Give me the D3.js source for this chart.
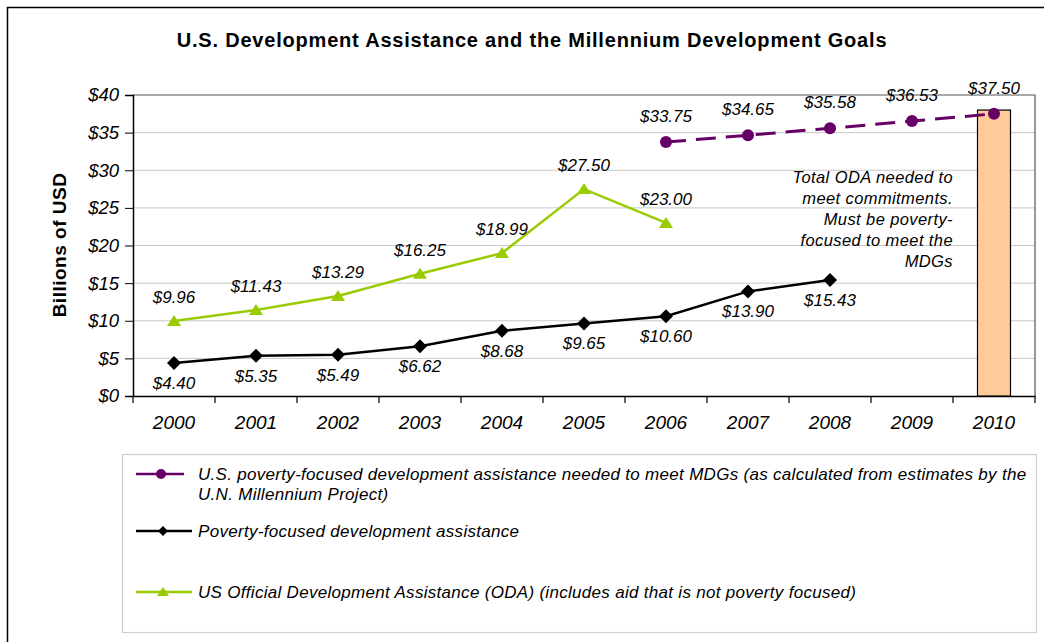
<!DOCTYPE html>
<html>
<head>
<meta charset="utf-8">
<script src="https://cdn.jsdelivr.net/npm/d3@7"></script>
<style>
  body { margin: 0; background: #fff; }
  text { font-family: "Liberation Sans", Arial, sans-serif; }
</style>
</head>
<body>
<svg id="chart" width="1044" height="642"></svg>
<script>
// data
const years = ["2000","2001","2002","2003","2004","2005","2006","2007","2008","2009","2010"];
const yTicks = [0, 5, 10, 15, 20, 25, 30, 35, 40];

const neededYears = ["2006","2007","2008","2009","2010"];
const neededValues = [33.75, 34.65, 35.58, 36.53, 37.50];

const povertyYears = ["2000","2001","2002","2003","2004","2005","2006","2007","2008"];
const povertyValues = [4.40, 5.35, 5.49, 6.62, 8.68, 9.65, 10.60, 13.90, 15.43];

const odaYears = ["2000","2001","2002","2003","2004","2005","2006"];
const odaValues = [9.96, 11.43, 13.29, 16.25, 18.99, 27.50, 23.00];

const barYears = ["2010"];
const barValues = [38];

const noteLines = ["Total ODA needed to", "meet commitments.", "Must be poverty-", "focused to meet the", "MDGs"];

const legendItems = [
  { lines: ["U.S. poverty-focused development assistance needed to meet MDGs (as calculated from estimates by the", "U.N. Millennium Project)"], color: "#660066", marker: "circle", y: 474 },
  { lines: ["Poverty-focused development assistance"], color: "#000000", marker: "diamond", y: 531 },
  { lines: ["US Official Development Assistance (ODA) (includes aid that is not poverty focused)"], color: "#99CC00", marker: "triangle", y: 592 }
];

const svg = d3.select("#chart");

// outer frame
svg.append("rect")
  .attr("x", 7.5).attr("y", 7.5)
  .attr("width", 1100).attr("height", 700)
  .attr("fill", "none").attr("stroke", "#000").attr("stroke-width", 1.5);

svg.append("text")
  .attr("x", 532).attr("y", 47)
  .attr("text-anchor", "middle")
  .style("font-size", "20px").style("font-weight", "bold")
  .style("letter-spacing", "0.8px")
  .text("U.S. Development Assistance and the Millennium Development Goals");

const plotLeft = 133, plotRight = 1035, plotTop = 95, plotBottom = 396;

const x = d3.scaleBand().domain(years).range([plotLeft, plotRight]);
const y = d3.scaleLinear().domain([0, 40]).range([plotBottom, plotTop]);
const cx = d => x(d) + x.bandwidth() / 2;

// gridlines
svg.append("g").selectAll("line")
  .data(yTicks.filter(t => t > 0 && t < 40))
  .enter().append("line")
  .attr("x1", plotLeft).attr("x2", plotRight)
  .attr("y1", d => y(d)).attr("y2", d => y(d))
  .attr("stroke", "#c8c8c8").attr("stroke-width", 1);

// plot frame top + right
svg.append("path")
  .attr("d", `M${plotLeft},${plotTop}H${plotRight}V${plotBottom}`)
  .attr("fill", "none").attr("stroke", "#555").attr("stroke-width", 1.2);

// y axis
const yAxis = svg.append("g")
  .attr("transform", `translate(${plotLeft},0)`)
  .call(d3.axisLeft(y).tickValues(yTicks).tickSize(8).tickPadding(6).tickFormat(d => "$" + d));
yAxis.select(".domain").attr("stroke", "#000").attr("stroke-width", 1.5);
yAxis.selectAll(".tick line").attr("stroke", "#000");
yAxis.selectAll(".tick text")
  .style("font-size", "18.5px").style("font-style", "italic")
  .style("font-family", "Liberation Sans, Arial, sans-serif").attr("fill", "#000");

// x axis
const xAxis = svg.append("g")
  .attr("transform", `translate(0,${plotBottom})`)
  .call(d3.axisBottom(x).tickSize(0).tickPadding(20));
xAxis.select(".domain").attr("stroke", "#000").attr("stroke-width", 1.5);
xAxis.selectAll(".tick text")
  .style("font-size", "19px").style("font-style", "italic")
  .style("font-family", "Liberation Sans, Arial, sans-serif").attr("fill", "#000");
svg.append("g").selectAll("line")
  .data(years.concat(["end"]))
  .enter().append("line")
  .attr("x1", (d, i) => plotLeft + i * x.step()).attr("x2", (d, i) => plotLeft + i * x.step())
  .attr("y1", plotBottom).attr("y2", plotBottom + 7)
  .attr("stroke", "#000").attr("stroke-width", 1.2);

svg.append("text")
  .attr("transform", `translate(66,245) rotate(-90)`)
  .attr("text-anchor", "middle")
  .style("font-size", "19px").style("font-weight", "bold")
  .style("letter-spacing", "0.5px")
  .text("Billions of USD");

// bar
svg.selectAll(".bar")
  .data(barYears.map((d, i) => [d, barValues[i]]))
  .enter().append("rect")
  .attr("class", "bar")
  .attr("x", d => cx(d[0]) - 16.5)
  .attr("width", 33)
  .attr("y", d => y(d[1]))
  .attr("height", d => plotBottom - y(d[1]))
  .attr("fill", "#FFCC99").attr("stroke", "#000").attr("stroke-width", 1.2);

// annotation
svg.append("text")
  .attr("text-anchor", "end")
  .style("font-size", "16.5px").style("font-style", "italic")
  .style("letter-spacing", "0.4px")
  .selectAll("tspan")
  .data(noteLines)
  .enter().append("tspan")
  .attr("x", 953)
  .attr("y", (d, i) => 183 + i * 21)
  .text(d => d);

const line = d3.line().x(d => cx(d[0])).y(d => y(d[1]));

function drawMarker(g, type, color, s) {
  if (type === "circle") {
    g.append("circle").attr("r", s).attr("fill", color);
  } else if (type === "diamond") {
    g.append("path").attr("d", `M0,${-s}L${s},0L0,${s}L${-s},0Z`).attr("fill", color);
  } else {
    g.append("path").attr("d", `M0,${-s}L${s + 1},${s - 1}H${-s - 1}Z`).attr("fill", color);
  }
}

function drawSeries(cats, vals, color, marker, dash, labelDy) {
  const pts = cats.map((c, i) => [c, vals[i]]);
  svg.append("path")
    .datum(pts)
    .attr("d", line)
    .attr("fill", "none")
    .attr("stroke", color)
    .attr("stroke-width", dash ? 3 : 2.5)
    .attr("stroke-dasharray", dash || null);
  pts.forEach(p => {
    const g = svg.append("g").attr("transform", `translate(${cx(p[0])},${y(p[1])})`);
    drawMarker(g, marker, color, marker === "diamond" ? 7 : 6);
  });
  svg.append("g").selectAll("text")
    .data(pts)
    .enter().append("text")
    .attr("x", d => cx(d[0]))
    .attr("y", d => y(d[1]) + labelDy)
    .attr("text-anchor", "middle")
    .style("font-size", "17px").style("font-style", "italic")
    .text(d => "$" + d[1].toFixed(2));
}

drawSeries(odaYears, odaValues, "#99CC00", "triangle", null, -18);
drawSeries(povertyYears, povertyValues, "#000000", "diamond", null, 26);
drawSeries(neededYears, neededValues, "#660066", "circle", "20,10", -20);

// legend
svg.append("rect")
  .attr("x", 122.5).attr("y", 454.5)
  .attr("width", 914).attr("height", 178)
  .attr("fill", "none").attr("stroke", "#d0d0d0").attr("stroke-width", 1.2);

legendItems.forEach(item => {
  svg.append("line")
    .attr("x1", 136).attr("x2", item.marker === "circle" ? 184 : 192)
    .attr("y1", item.y).attr("y2", item.y)
    .attr("stroke", item.color).attr("stroke-width", 2.5);
  const g = svg.append("g")
    .attr("transform", `translate(${item.marker === "circle" ? 161 : 163},${item.y})`);
  drawMarker(g, item.marker, item.color, 5);
  svg.append("text")
    .style("font-size", "17px").style("font-style", "italic")
    .style("letter-spacing", "0.3px")
    .selectAll("tspan")
    .data(item.lines)
    .enter().append("tspan")
    .attr("x", 198)
    .attr("y", (d, i) => item.y + 6 + i * 20)
    .text(d => d);
});
</script>
</body>
</html>
